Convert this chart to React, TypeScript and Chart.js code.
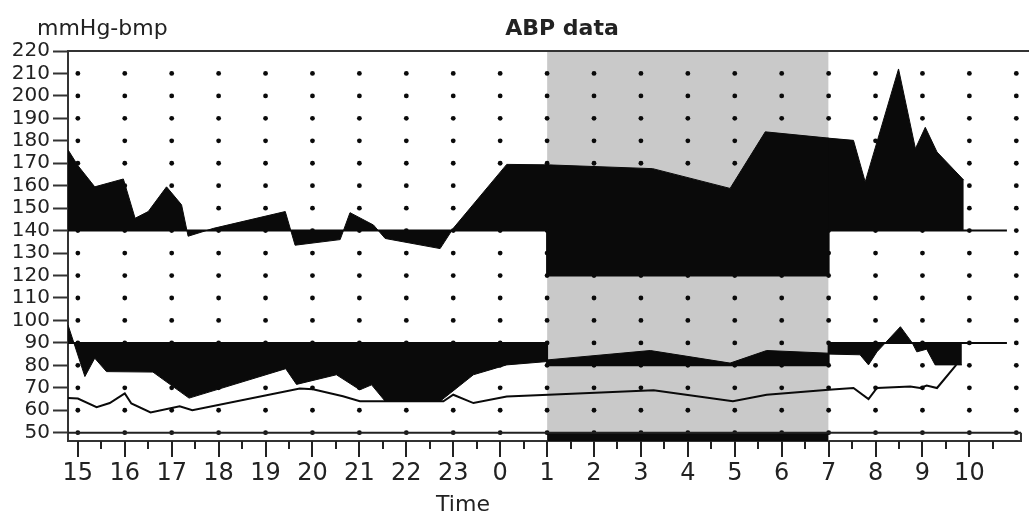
import React, { useEffect, useRef } from 'react';
import { Chart, registerables } from 'chart.js';
Chart.register(...registerables);

// Hour labels; x position = hours after 15:00
const hourLabels = ['15', '16', '17', '18', '19', '20', '21', '22', '23', '0', '1', '2', '3', '4', '5', '6', '7', '8', '9', '10', '11'];
const labelledHours = 20; // 15 .. 10 carry labels
const yTickValues = [50, 60, 70, 80, 90, 100, 110, 120, 130, 140, 150, 160, 170, 180, 190, 200, 210, 220];
const dotRows = [50, 60, 70, 80, 90, 100, 110, 120, 130, 140, 150, 160, 170, 180, 190, 200, 210];

const X_MIN = -0.21;
const X_MAX = 20.1;
const Y_MIN = 46.3;
const Y_MAX = 220;

const nightStart = 10; // 01:00
const nightEnd = 16; // 07:00
const recordEnd = 19.8;
const sleepBarLevel = 50;

const sysDayLimit = 140;
const sysNightLimit = 120;
const diaDayLimit = 90;
const diaNightLimit = 80;

// Systolic
const sysDay1Times = [-0.21, 0.0, 0.36, 0.97, 1.22, 1.5, 1.89, 2.21, 2.35, 2.89, 4.42, 4.63, 5.59, 5.8, 6.3, 6.55, 7.72, 8.0, 9.14, 10.02];
const sysDay1Values = [176, 169, 159.5, 163, 145.5, 148.5, 159.5, 151.5, 137.5, 141, 148.5, 133.5, 136, 148, 142.5, 136.5, 132, 141, 169.5, 169.3];
const sysNightTimes = [10.0, 12.25, 13.9, 14.65, 16.0];
const sysNightValues = [169.3, 167.6, 158.8, 184, 181.2];
const sysDay2Times = [15.98, 16.53, 16.78, 17.49, 17.85, 18.06, 18.31, 18.88];
const sysDay2Values = [181.2, 180.2, 161.7, 212, 176.5, 186, 175, 162.5];

// Diastolic
const diaDay1Times = [-0.21, 0.15, 0.36, 0.61, 1.6, 2.37, 4.43, 4.66, 5.51, 6.01, 6.26, 6.55, 7.72, 8.43, 9.14, 10.01];
const diaDay1Values = [98, 75, 83.2, 77.2, 77, 65.4, 78.5, 71.5, 75.8, 69.1, 71.3, 64, 64, 75.8, 80.2, 81.7];
const diaNightTimes = [10.0, 12.2, 13.9, 14.68, 16.01];
const diaNightValues = [82.4, 86.6, 81, 86.6, 85.4];
const diaDay2Times = [16.0, 16.67, 16.85, 17.03, 17.53, 17.78, 17.88, 18.09, 18.27, 18.84];
const diaDay2Values = [85, 84.7, 80.2, 86, 97.2, 90.1, 86, 87.2, 80.2, 80.2];

// Heart rate
const hrTimes = [-0.21, 0.0, 0.4, 0.68, 1.0, 1.14, 1.55, 2.17, 2.44, 4.73, 5.01, 5.65, 6.01, 7.79, 8.0, 8.43, 9.14, 10.03, 12.27, 13.96, 14.68, 16.0, 16.53, 16.85, 17.03, 17.74, 17.95, 18.09, 18.31, 18.72];
const hrValues = [65.4, 65.2, 61.4, 63.2, 67.5, 63, 59, 61.8, 60, 69.7, 69.3, 66.2, 64, 64, 66.9, 63.2, 66.1, 66.9, 68.9, 64, 66.9, 69.1, 69.9, 65, 69.9, 70.6, 69.9, 71, 69.9, 80.2];

const FONT = "'DejaVu Sans', sans-serif";
const INK = '#0a0a0a';
const NIGHT_GREY = '#c9c9c9';

const pts = (xs: number[], ys: number[]) => xs.map((x, i) => ({ x, y: ys[i] }));

const decorPlugin = {
  id: 'decor',
  afterDraw(chart: any) {
    const { ctx, chartArea, scales } = chart;
    const xs = scales.x;
    const ys = scales.y;
    ctx.save();
    ctx.strokeStyle = '#333';
    ctx.lineWidth = 2;
    // top frame line
    ctx.beginPath();
    ctx.moveTo(chartArea.left, chartArea.top);
    ctx.lineTo(chart.width, chartArea.top);
    ctx.stroke();
    // right stub of sleep bar
    ctx.beginPath();
    ctx.moveTo(chartArea.right, ys.getPixelForValue(sleepBarLevel));
    ctx.lineTo(chartArea.right, chartArea.bottom);
    ctx.stroke();
    // x ticks: major hours and half hours
    ctx.strokeStyle = '#222';
    for (let i = 0; i < labelledHours; i++) {
      const px = Math.round(xs.getPixelForValue(i));
      ctx.lineWidth = 2;
      ctx.beginPath();
      ctx.moveTo(px, chartArea.bottom);
      ctx.lineTo(px, chartArea.bottom + 16);
      ctx.stroke();
      const pm = Math.round(xs.getPixelForValue(i + 0.5));
      ctx.beginPath();
      ctx.moveTo(pm, chartArea.bottom);
      ctx.lineTo(pm, chartArea.bottom + 8);
      ctx.stroke();
    }
    // texts
    ctx.fillStyle = '#222';
    ctx.textBaseline = 'alphabetic';
    ctx.textAlign = 'left';
    ctx.font = `22px ${FONT}`;
    ctx.fillText('mmHg-bmp', 37, 35);
    ctx.textAlign = 'center';
    ctx.font = `bold 22px ${FONT}`;
    ctx.fillText('ABP data', 562, 35);
    ctx.font = `22px ${FONT}`;
    ctx.fillText('Time', 463, 511);
    ctx.restore();
  },
};

export default function App() {
  const ref = useRef<HTMLCanvasElement | null>(null);
  useEffect(() => {
    if (!ref.current) return;
    const dots: { x: number; y: number }[] = [];
    hourLabels.forEach((_, i) => dotRows.forEach((v) => dots.push({ x: i, y: v })));

    const fillSet = (data: any[], limit: number) => ({
      data,
      fill: { value: limit },
      backgroundColor: INK,
      borderColor: INK,
      borderWidth: 1,
      pointRadius: 0,
      tension: 0,
      order: 5,
    });

    const chart = new Chart(ref.current, {
      type: 'line',
      data: {
        datasets: [
          {
            data: [{ x: nightStart, y: Y_MAX }, { x: nightEnd, y: Y_MAX }],
            fill: 'start',
            backgroundColor: NIGHT_GREY,
            borderWidth: 0,
            pointRadius: 0,
            order: 10,
          },
          {
            data: dots,
            showLine: false,
            pointRadius: 2.4,
            pointBackgroundColor: INK,
            pointBorderWidth: 0,
            order: 9,
          },
          {
            data: [{ x: nightStart, y: sleepBarLevel }, { x: nightEnd, y: sleepBarLevel }],
            fill: 'start',
            backgroundColor: INK,
            borderWidth: 0,
            pointRadius: 0,
            order: 6,
          },
          {
            data: [{ x: X_MIN, y: sleepBarLevel }, { x: X_MAX, y: sleepBarLevel }],
            fill: false,
            borderColor: '#222',
            borderWidth: 2,
            pointRadius: 0,
            order: 2,
          },
          fillSet(pts(sysDay1Times, sysDay1Values), sysDayLimit),
          fillSet(pts(sysNightTimes, sysNightValues), sysNightLimit),
          fillSet(pts(sysDay2Times, sysDay2Values), sysDayLimit),
          fillSet(pts(diaDay1Times, diaDay1Values), diaDayLimit),
          fillSet(pts(diaNightTimes, diaNightValues), diaNightLimit),
          fillSet(pts(diaDay2Times, diaDay2Values), diaDayLimit),
          {
            data: [
              { x: X_MIN, y: sysDayLimit }, { x: nightStart, y: sysDayLimit },
              { x: nightStart, y: sysNightLimit }, { x: nightEnd, y: sysNightLimit },
              { x: nightEnd, y: sysDayLimit }, { x: recordEnd, y: sysDayLimit },
            ],
            fill: false,
            borderColor: INK,
            borderWidth: 2,
            pointRadius: 0,
            order: 3,
          },
          {
            data: [
              { x: X_MIN, y: diaDayLimit }, { x: nightStart, y: diaDayLimit },
              { x: nightStart, y: diaNightLimit }, { x: nightEnd, y: diaNightLimit },
              { x: nightEnd, y: diaDayLimit }, { x: recordEnd, y: diaDayLimit },
            ],
            fill: false,
            borderColor: INK,
            borderWidth: 2,
            pointRadius: 0,
            order: 3,
          },
          {
            data: pts(hrTimes, hrValues),
            fill: false,
            borderColor: INK,
            borderWidth: 2,
            pointRadius: 0,
            order: 1,
          },
        ],
      },
      options: {
        animation: false,
        responsive: true,
        maintainAspectRatio: false,
        layout: { padding: { top: 51, right: 8, left: 0, bottom: 0 } },
        plugins: { legend: { display: false }, tooltip: { enabled: false }, title: { display: false } },
        scales: {
          x: {
            type: 'linear',
            min: X_MIN,
            max: X_MAX,
            afterBuildTicks: (scale: any) => {
              scale.ticks = hourLabels.slice(0, labelledHours).map((_, i) => ({ value: i }));
            },
            afterFit: (scale: any) => {
              scale.height = 73;
            },
            grid: { display: false },
            border: { display: true, color: '#333', width: 2 },
            ticks: {
              autoSkip: false,
              maxRotation: 0,
              padding: 10,
              color: '#222',
              font: { family: FONT, size: 24 },
              callback: (v: any) => hourLabels[Math.round(Number(v))],
            },
          },
          y: {
            type: 'linear',
            min: Y_MIN,
            max: Y_MAX,
            afterBuildTicks: (scale: any) => {
              scale.ticks = yTickValues.map((v) => ({ value: v }));
            },
            afterFit: (scale: any) => {
              scale.width = 68;
            },
            grid: { drawOnChartArea: false, drawTicks: true, tickLength: 15, tickWidth: 2, tickColor: '#333' },
            border: { display: true, color: '#333', width: 2 },
            ticks: {
              padding: 3,
              color: '#222',
              font: { family: FONT, size: 20 },
              autoSkip: false,
            },
          },
        },
      },
      plugins: [decorPlugin],
    } as any);
    return () => chart.destroy();
  }, []);
  return (
    <div style={{ position: 'fixed', left: 0, top: 0, width: 1029, height: 514, background: '#fff' }}>
      <canvas ref={ref} />
    </div>
  );
}
